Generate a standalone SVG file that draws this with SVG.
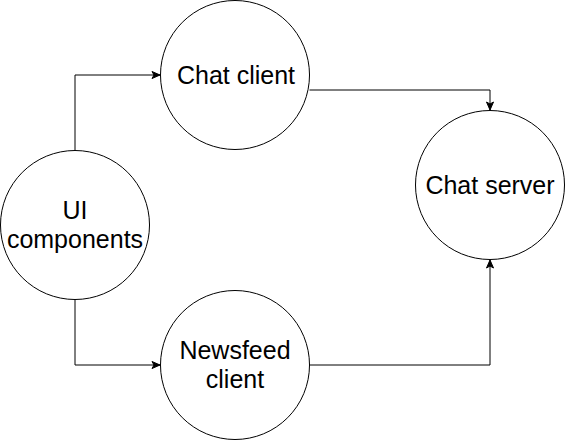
<svg xmlns="http://www.w3.org/2000/svg" width="566" height="441" viewBox="0 0 566 441">
<style>
.node circle{fill:#fff;stroke:#000;stroke-width:1}
.node text{font-family:"Liberation Sans",Arial,Helvetica,sans-serif;font-size:25px;fill:#000;text-anchor:middle}
.edge{fill:none;stroke:#000;stroke-width:1}
</style>
<defs>
<marker id="arr" markerUnits="userSpaceOnUse" markerWidth="10" markerHeight="10" refX="9" refY="4" orient="auto" overflow="visible">
<path d="M1,0.5 L9,4 L1,7.5 L3,4 Z" fill="#000" stroke="#000" stroke-width="1"/>
</marker>
</defs>
<g id="connectors">
<path class="edge" d="M75,150 V75 H160" marker-end="url(#arr)"/>
<path class="edge" d="M75,300 V365 H160" marker-end="url(#arr)"/>
<path class="edge" d="M309.5,90 H490 V110" marker-end="url(#arr)"/>
<path class="edge" d="M310,365 H490 V260" marker-end="url(#arr)"/>
</g>
<g id="chat-client" class="node">
<circle cx="235" cy="75" r="74.5"/>
<text x="236" y="83.5">Chat client</text>
</g>
<g id="ui-components" class="node">
<circle cx="75" cy="225" r="74.5"/>
<text x="75" y="219">UI</text>
<text x="75" y="248">components</text>
</g>
<g id="chat-server" class="node">
<circle cx="490" cy="185" r="74.5"/>
<text x="490" y="193.5">Chat server</text>
</g>
<g id="newsfeed-client" class="node">
<circle cx="235" cy="365" r="74.5"/>
<text x="235" y="359">Newsfeed</text>
<text x="235" y="388">client</text>
</g>
</svg>
